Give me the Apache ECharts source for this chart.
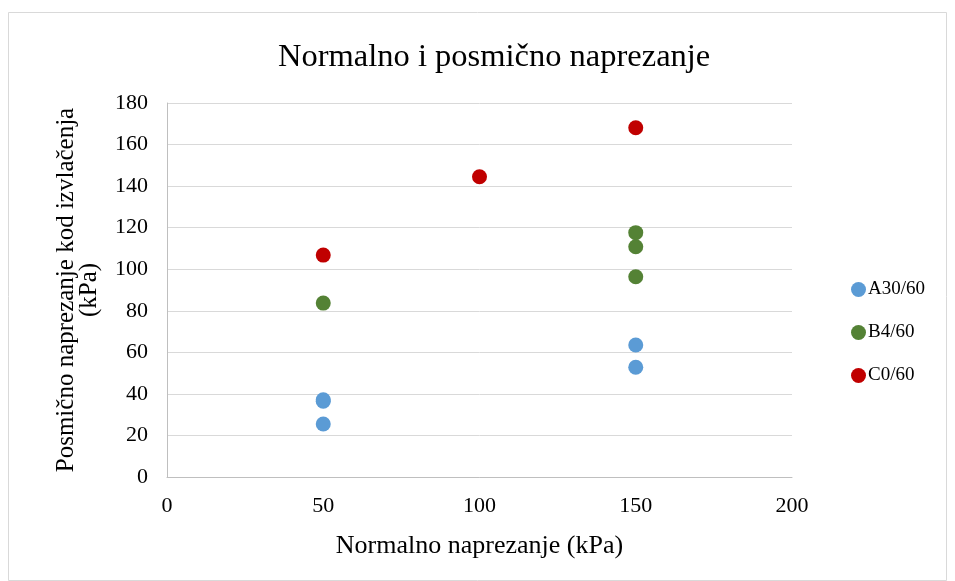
<!DOCTYPE html>
<html><head><meta charset="utf-8">
<script src="https://cdn.jsdelivr.net/npm/echarts@6/dist/echarts.min.js"></script>
<style>html,body{margin:0;padding:0;background:#fff}#c{width:955px;height:581px}</style>
</head><body><div id="c"></div>
<script>
const seriesNames = ['A30/60', 'B4/60', 'C0/60'];
const colors = ['#5b9bd5', '#548235', '#c00000'];
const A30 = [[50, 25.5], [50, 36.5], [50, 37.2], [150, 52.8], [150, 63.5]];
const B4 = [[50, 83.7], [150, 96.4], [150, 110.8], [150, 117.6]];
const C0 = [[50, 106.8], [100, 144.5], [150, 168.1]];
const xTicks = [0, 50, 100, 150, 200];
const yTicks = [0, 20, 40, 60, 80, 100, 120, 140, 160, 180];

const font = 'Liberation Serif, Times New Roman, serif';
const chart = echarts.init(document.getElementById('c'));
const data = [A30, B4, C0];
chart.setOption({
  backgroundColor: '#fff',
  animation: false,
  graphic: [{type: 'rect', shape: {x: 8.5, y: 12.5, width: 938, height: 568}, style: {fill: 'none', stroke: '#d9d9d9', lineWidth: 1}}],
  title: {text: 'Normalno i posmično naprezanje', left: 273, top: 36,
    textStyle: {fontFamily: font, fontSize: 32.5, fontWeight: 'normal', color: '#000'}},
  legend: {orient: 'vertical', left: 846, top: 275, itemGap: 24, itemWidth: 15, itemHeight: 15,
    icon: 'circle', data: seriesNames,
    textStyle: {fontFamily: font, fontSize: 19, color: '#000', padding: [0, 0, 0, -3]}},
  grid: {left: 167, right: 163, top: 103, bottom: 104},
  xAxis: {type: 'value', min: xTicks[0], max: xTicks[xTicks.length - 1], interval: 50,
    name: 'Normalno naprezanje (kPa)', nameLocation: 'middle', nameGap: 56,
    nameTextStyle: {fontFamily: font, fontSize: 26, color: '#000'},
    axisLine: {show: true, lineStyle: {color: '#bfbfbf'}}, axisTick: {show: false},
    splitLine: {show: false},
    axisLabel: {fontFamily: font, fontSize: 22, color: '#000', margin: 18}},
  yAxis: {type: 'value', min: yTicks[0], max: yTicks[yTicks.length - 1], interval: 20,
    name: 'Posmično naprezanje kod izvlačenja\n(kPa)', nameLocation: 'middle', nameGap: 66,
    nameTextStyle: {fontFamily: font, fontSize: 25, color: '#000', lineHeight: 23},
    axisLine: {show: true, lineStyle: {color: '#bfbfbf'}}, axisTick: {show: false},
    splitLine: {lineStyle: {color: '#d9d9d9'}},
    axisLabel: {fontFamily: font, fontSize: 22, color: '#000', margin: 19}},
  series: seriesNames.map((n, i) => ({
    name: n, type: 'scatter', data: data[i], symbol: 'circle', symbolSize: 15,
    itemStyle: {color: colors[i], opacity: 1}
  }))
});
</script></body></html>
